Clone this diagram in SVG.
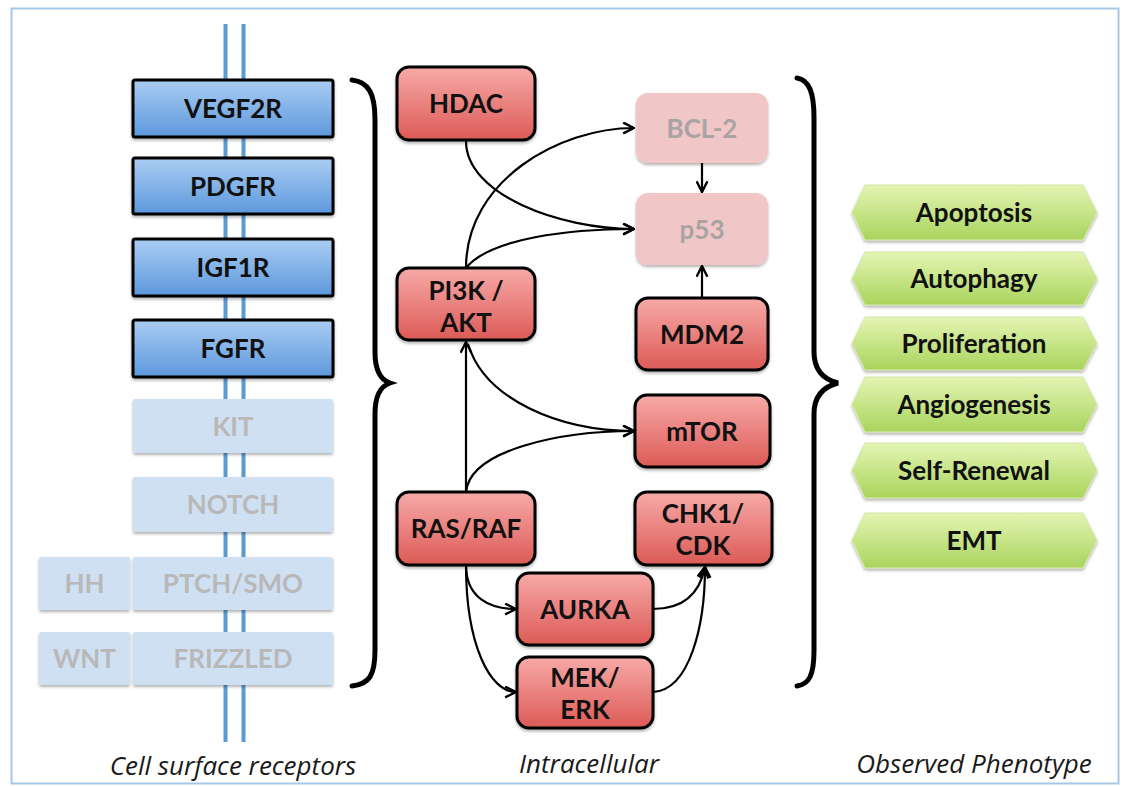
<svg xmlns="http://www.w3.org/2000/svg" width="1122" height="786" viewBox="0 0 1122 786">
<defs>
<linearGradient id="gBlue" x1="0" y1="0" x2="0" y2="1"><stop offset="0" stop-color="#aacdf3"/><stop offset="1" stop-color="#5c98dc"/></linearGradient>
<linearGradient id="gRed" x1="0" y1="0" x2="0" y2="1"><stop offset="0" stop-color="#f7aaa8"/><stop offset="1" stop-color="#dc5a56"/></linearGradient>
<linearGradient id="gGreen" x1="0" y1="0" x2="0" y2="1"><stop offset="0" stop-color="#e4f5b4"/><stop offset="1" stop-color="#a9d45c"/></linearGradient>
<filter id="sh" x="-10%" y="-10%" width="130%" height="140%"><feDropShadow dx="0" dy="2" stdDeviation="1.5" flood-color="#000" flood-opacity="0.3"/></filter>
<marker id="arr" viewBox="0 0 12 12" refX="11" refY="6" markerWidth="13" markerHeight="13" markerUnits="userSpaceOnUse" orient="auto"><path d="M1,1 L11,6 L1,11" fill="none" stroke="#000" stroke-width="2.2"/></marker>
<style>
.lbl{font-family:Lato,"Open Sans",sans-serif;font-weight:bold;font-size:26px;text-anchor:middle;fill:#111}
.faded{fill:#b8b8b8}
.fadedr{fill:#a9a3a3}
.blue{fill:url(#gBlue);stroke:#000;stroke-width:3}
.blueF{fill:#cfe0f3}
.red{fill:url(#gRed);stroke:#000;stroke-width:3}
.redF{fill:#f0c6c6}
.green{fill:url(#gGreen);stroke:#d5e8a8;stroke-width:1}
.cap{font-family:"Open Sans",sans-serif;font-style:italic;font-size:26px;text-anchor:middle;fill:#1a1a1a}
.conn path{fill:none;stroke:#000;stroke-width:2.2}
.brace{fill:none;stroke:#000;stroke-width:5;stroke-linecap:round}
.mem{stroke:#5b9bd5;stroke-width:4}
</style>
</defs>
<rect x="11.5" y="8.5" width="1107" height="775" fill="#fff" stroke="#a7c7e7" stroke-width="2"/>
<g id="membrane">
<line class="mem" x1="225.5" y1="24" x2="225.5" y2="742"/>
<line class="mem" x1="243.5" y1="24" x2="243.5" y2="742"/>
</g>
<g id="VEGF2R"><rect class="blue" x="133" y="80" width="200" height="57" rx="2" filter="url(#sh)"/><text class="lbl" x="233" y="118">VEGF2R</text></g>
<g id="PDGFR"><rect class="blue" x="133" y="158" width="200" height="56" rx="2" filter="url(#sh)"/><text class="lbl" x="233" y="196">PDGFR</text></g>
<g id="IGF1R"><rect class="blue" x="133" y="239" width="200" height="57" rx="2" filter="url(#sh)"/><text class="lbl" x="233" y="277">IGF1R</text></g>
<g id="FGFR"><rect class="blue" x="133" y="320" width="200" height="57" rx="2" filter="url(#sh)"/><text class="lbl" x="233" y="358">FGFR</text></g>
<g id="KIT"><rect class="blueF" x="133" y="399" width="200" height="54" rx="2" filter="url(#sh)"/><text class="lbl faded" x="233" y="436">KIT</text></g>
<g id="NOTCH"><rect class="blueF" x="133" y="477" width="200" height="55" rx="2" filter="url(#sh)"/><text class="lbl faded" x="233" y="514">NOTCH</text></g>
<g id="PTCH-SMO"><rect class="blueF" x="133" y="557" width="200" height="53" rx="2" filter="url(#sh)"/><text class="lbl faded" x="233" y="593">PTCH/SMO</text></g>
<g id="HH"><rect class="blueF" x="39" y="557" width="91" height="53" rx="2" filter="url(#sh)"/><text class="lbl faded" x="84.5" y="593">HH</text></g>
<g id="FRIZZLED"><rect class="blueF" x="133" y="632" width="200" height="53" rx="2" filter="url(#sh)"/><text class="lbl faded" x="233" y="668">FRIZZLED</text></g>
<g id="WNT"><rect class="blueF" x="39" y="632" width="91" height="53" rx="2" filter="url(#sh)"/><text class="lbl faded" x="84.5" y="668">WNT</text></g>
<g id="braces">
<path class="brace" d="M352,80 C369,82 375,94 375,120 L375,352 C375,372 381,380 390,383 C381,386 375,394 375,414 L375,650 C375,676 369,684 352,686"/>
<path class="brace" d="M797,78 C809,80 814,92 814,118 L814,352 C814,372 826,380 838,383 C826,386 814,394 814,414 L814,650 C814,676 809,684 797,686"/>
</g>
<g class="conn" id="connectors">
<path d="M466,141 C466,195 560,229 634,229" marker-end="url(#arr)"/>
<path d="M466,268 C466,180 560,128 634,128" marker-end="url(#arr)"/>
<path d="M466,268 C490,238 570,229 634,229" marker-end="url(#arr)"/>
<path d="M466,492 L466,342" marker-end="url(#arr)"/>
<path d="M468,344 C485,400 560,431 634,431" marker-end="url(#arr)"/>
<path d="M466,492 C470,450 560,431 634,431" marker-end="url(#arr)"/>
<path d="M702,163 L702,192" marker-end="url(#arr)"/>
<path d="M702,298 L702,266" marker-end="url(#arr)"/>
<path d="M466,565 C466,598 490,609 516,609" marker-end="url(#arr)"/>
<path d="M466,565 C466,645 490,692 516,692" marker-end="url(#arr)"/>
<path d="M653,609 C685,609 700,592 705,567" marker-end="url(#arr)"/>
<path d="M653,692 C690,690 705,625 705,567" marker-end="url(#arr)"/>
</g>
<g id="HDAC"><rect class="red" x="397" y="67" width="138" height="73" rx="12" filter="url(#sh)"/><text class="lbl" x="466" y="113">HDAC</text></g>
<g id="PI3K-AKT"><rect class="red" x="397" y="268" width="138" height="72" rx="12" filter="url(#sh)"/><text class="lbl" x="466" y="300">PI3K /</text><text class="lbl" x="466" y="332">AKT</text></g>
<g id="RAS-RAF"><rect class="red" x="397" y="492" width="138" height="73" rx="12" filter="url(#sh)"/><text class="lbl" x="466" y="538">RAS/RAF</text></g>
<g id="BCL-2"><rect class="redF" x="636" y="93" width="132" height="70" rx="12" filter="url(#sh)"/><text class="lbl fadedr" x="702" y="138">BCL-2</text></g>
<g id="p53"><rect class="redF" x="636" y="193" width="132" height="72" rx="12" filter="url(#sh)"/><text class="lbl fadedr" x="702" y="239">p53</text></g>
<g id="MDM2"><rect class="red" x="636" y="298" width="132" height="72" rx="12" filter="url(#sh)"/><text class="lbl" x="702" y="344">MDM2</text></g>
<g id="mTOR"><rect class="red" x="635" y="395" width="135" height="72" rx="12" filter="url(#sh)"/><text class="lbl" x="702" y="441">mTOR</text></g>
<g id="CHK1-CDK"><rect class="red" x="635" y="492" width="137" height="73" rx="12" filter="url(#sh)"/><text class="lbl" x="703" y="523">CHK1/</text><text class="lbl" x="703" y="555">CDK</text></g>
<g id="AURKA"><rect class="red" x="517" y="573" width="136" height="72" rx="12" filter="url(#sh)"/><text class="lbl" x="585" y="619">AURKA</text></g>
<g id="MEK-ERK"><rect class="red" x="517" y="657" width="136" height="71" rx="12" filter="url(#sh)"/><text class="lbl" x="585" y="687">MEK/</text><text class="lbl" x="585" y="719">ERK</text></g>
<g id="Apoptosis"><path class="green" d="M852,212.5 L865,185 L1083,185 L1097,212.5 L1083,240 L865,240 Z" filter="url(#sh)"/><text class="lbl" x="974" y="222">Apoptosis</text></g>
<g id="Autophagy"><path class="green" d="M852,278.5 L865,252 L1083,252 L1097,278.5 L1083,305 L865,305 Z" filter="url(#sh)"/><text class="lbl" x="974" y="288">Autophagy</text></g>
<g id="Proliferation"><path class="green" d="M852,343.5 L865,317 L1083,317 L1097,343.5 L1083,370 L865,370 Z" filter="url(#sh)"/><text class="lbl" x="974" y="353">Proliferation</text></g>
<g id="Angiogenesis"><path class="green" d="M852,404.5 L865,377 L1083,377 L1097,404.5 L1083,432 L865,432 Z" filter="url(#sh)"/><text class="lbl" x="974" y="414">Angiogenesis</text></g>
<g id="Self-Renewal"><path class="green" d="M852,470.5 L865,443 L1083,443 L1097,470.5 L1083,498 L865,498 Z" filter="url(#sh)"/><text class="lbl" x="974" y="480">Self-Renewal</text></g>
<g id="EMT"><path class="green" d="M852,540.5 L865,513 L1083,513 L1097,540.5 L1083,568 L865,568 Z" filter="url(#sh)"/><text class="lbl" x="974" y="550">EMT</text></g>
<g id="captions">
<text class="cap" x="233" y="775">Cell surface receptors</text>
<text class="cap" x="589" y="773">Intracellular</text>
<text class="cap" x="974" y="773">Observed Phenotype</text>
</g>
</svg>
